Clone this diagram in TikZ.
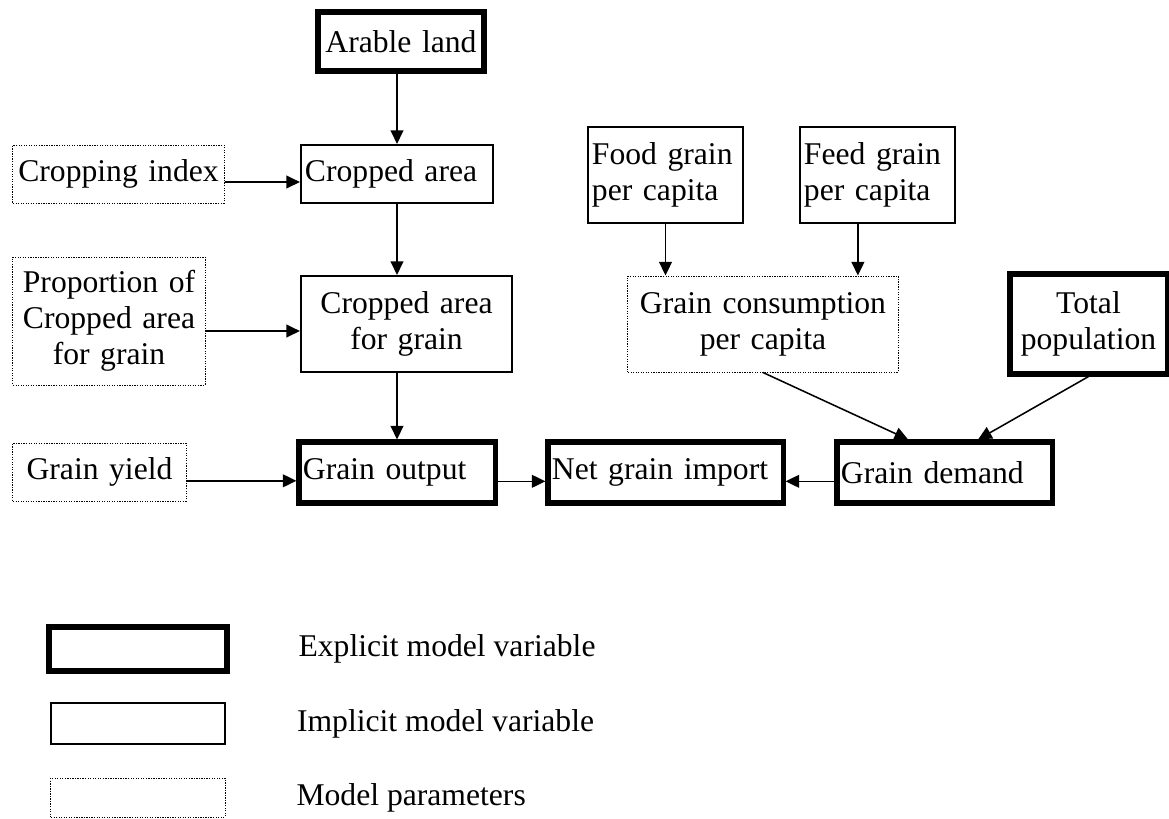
\documentclass[tikz,border=0pt]{standalone}
\usepackage{fontspec}
\setmainfont{Liberation Serif}
\usetikzlibrary{arrows.meta,positioning}

\tikzset{
  ebox/.style={draw,line width=3.6pt,inner xsep=0.1cm,inner ysep=0pt},
  ibox/.style={draw,line width=1.5pt,inner xsep=0.1cm,inner ysep=0pt},
  pbox/.style={draw,line width=0.7pt,dash pattern=on 0.9pt off 0.9pt,inner xsep=0.1cm,inner ysep=0pt},
  arr/.style={-{Triangle[length=0.34cm,width=0.32cm]},line width=1.1pt}
}

\begin{document}
\begin{tikzpicture}[x=0.025cm,y=-0.025cm,font=\fontsize{22.5}{25.5}\selectfont]
      % fix the page to the size of the reference
      \useasboundingbox (0,0) rectangle (1169,818);

      % land side
      \node[ebox,text width=3.95cm,align=center,minimum height=1.475cm] (arable) at (401,41.5) {Arable land};
      \node[pbox,text width=5.075cm,align=center,minimum height=1.45cm] (cropidx) at (118.5,174) {Cropping index};
      \node[ibox,text width=4.6cm,align=left,minimum height=1.45cm] (cropped) at (397,174) {Cropped area};
      \node[pbox,text width=4.6cm,align=center,minimum height=3.2cm] (prop) at (109,321) {Proportion of\\Cropped area\\for grain};
      \node[ibox,text width=5.075cm,align=center,minimum height=2.4cm] (cropgrain) at (406.5,324) {Cropped area\\for grain};
      \node[pbox,text width=4.125cm,align=center,minimum height=1.45cm] (yield) at (99.5,472) {Grain yield};
      \node[ebox,text width=4.7cm,align=left,minimum height=1.525cm] (output) at (397,472.5) {Grain output};

      % trade
      \node[ebox,text width=5.675cm,align=left,minimum height=1.525cm] (netimp) at (665.5,472.5) {Net grain import};

      % demand side
      \node[ibox,text width=3.675cm,align=left,minimum height=2.4cm] (food) at (665.5,175) {Food grain\\per capita};
      \node[ibox,text width=3.675cm,align=left,minimum height=2.4cm] (feed) at (877.5,175) {Feed grain\\per capita};
      \node[pbox,text width=6.55cm,align=center,minimum height=2.4cm] (cons) at (763,324) {Grain consumption\\per capita};
      \node[ebox,text width=3.725cm,align=center,minimum height=2.5cm] (pop) at (1088.5,324) {Total\\population};
      \node[ebox,text width=5.175cm,align=left,minimum height=1.525cm] (demand) at (944.5,472.5) {Grain demand};

      % vertical links
      \draw[arr] (arable.south -| cropped) -- (cropped.north);
      \draw[arr] (cropped.south) -- (cropped.south |- cropgrain.north);
      \draw[arr] (cropgrain.south -| output) -- (output.north);
      \draw[arr] (food.south) -- (food.south |- cons.north);
      \draw[arr] ([xshift=-0.49cm]feed.south) -- ([xshift=-0.49cm]feed.south |- cons.north);

      % horizontal links, a bit below the middle
      \draw[arr] ([yshift=-0.2cm]cropidx.east) -- ([yshift=-0.2cm]cropidx.east -| cropped.west);
      \draw[arr] ([yshift=-0.25cm]prop.east) -- ([yshift=-0.25cm]prop.east -| cropgrain.west);
      \draw[arr] ([yshift=-0.22cm]yield.east) -- ([yshift=-0.22cm]yield.east -| output.west);
      \draw[arr] ([yshift=-0.22cm]output.east) -- ([yshift=-0.22cm]output.east -| netimp.west);
      \draw[arr] ([yshift=-0.22cm]demand.west) -- ([yshift=-0.22cm]demand.west -| netimp.east);

      % slanted links into grain demand
      \draw[arr] (cons.south) -- ([xshift=-0.91cm]demand.north);
      \draw[arr] (pop.south) -- ([xshift=0.84cm]demand.north);

      % legend
      \node[ebox,minimum width=4.45cm,minimum height=1.1cm] (keyexp) at (138,649) {};
      \node[ibox,minimum width=4.35cm,minimum height=1.025cm] (keyimp) at (138,723.5) {};
      \node[pbox,minimum width=4.35cm,minimum height=0.975cm] (keypar) at (138,797.5) {};
      \node[right=1.6cm of keyexp] (explab) {Explicit model variable};
      \node[right=1.65cm of keyimp] (implab) {Implicit model variable};
      \node[right=1.65cm of keypar] (parlab) {Model parameters};
    \end{tikzpicture}
\end{document}
